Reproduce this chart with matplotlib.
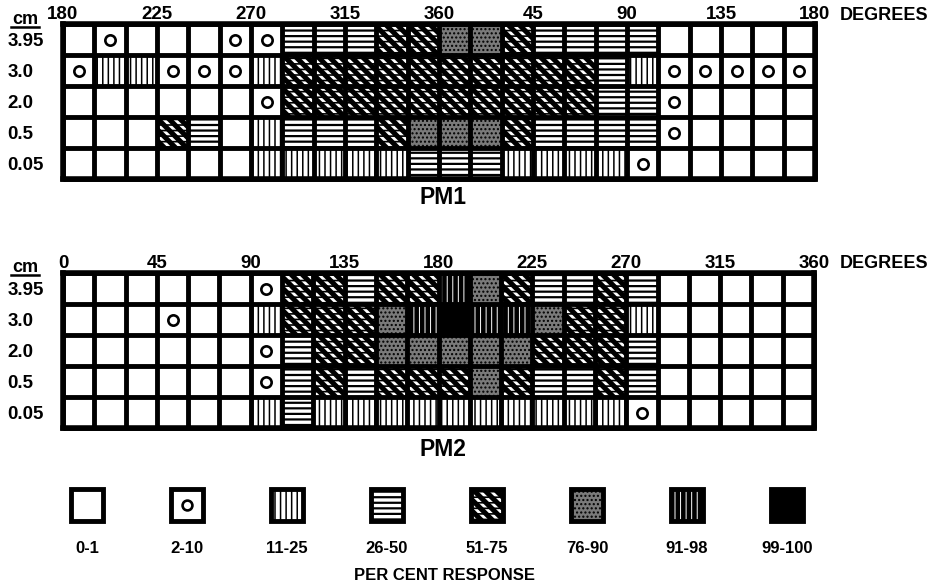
import numpy as np
import matplotlib as mpl
import matplotlib.pyplot as plt
from matplotlib.patches import Rectangle

plt.rcParams['font.family'] = ['Liberation Sans', 'DejaVu Sans']
plt.rcParams['font.weight'] = 'bold'
plt.rcParams['hatch.linewidth'] = 1.4

W, H = 935, 588

depths = ['3.95', '3.0', '2.0', '0.5', '0.05']
pm1_ticks = ['180', '225', '270', '315', '360', '45', '90', '135', '180']
pm2_ticks = ['0', '45', '90', '135', '180', '225', '270', '315', '360']
classes = ['0-1', '2-10', '11-25', '26-50', '51-75', '76-90', '91-98', '99-100']

# response class (index into classes) per cell; rows = depths, 24 cols of 15 deg
pm1 = np.array([
    [0, 1, 0, 0, 0, 1, 1, 3, 3, 3, 4, 4, 5, 5, 4, 3, 3, 3, 3, 0, 0, 0, 0, 0],
    [1, 2, 2, 1, 1, 1, 2, 4, 4, 4, 4, 4, 4, 4, 4, 4, 4, 3, 2, 1, 1, 1, 1, 1],
    [0, 0, 0, 0, 0, 0, 1, 4, 4, 4, 4, 4, 4, 4, 4, 4, 4, 3, 3, 1, 0, 0, 0, 0],
    [0, 0, 0, 4, 3, 0, 2, 3, 3, 3, 4, 5, 5, 5, 4, 3, 3, 3, 3, 1, 0, 0, 0, 0],
    [0, 0, 0, 0, 0, 0, 2, 2, 2, 2, 2, 3, 3, 3, 2, 2, 2, 2, 1, 0, 0, 0, 0, 0],
])
pm2 = np.array([
    [0, 0, 0, 0, 0, 0, 1, 4, 4, 3, 4, 4, 6, 5, 4, 3, 3, 4, 3, 0, 0, 0, 0, 0],
    [0, 0, 0, 1, 0, 0, 2, 4, 4, 4, 5, 6, 7, 6, 6, 5, 4, 4, 2, 0, 0, 0, 0, 0],
    [0, 0, 0, 0, 0, 0, 1, 3, 4, 4, 5, 5, 5, 5, 5, 4, 4, 4, 3, 0, 0, 0, 0, 0],
    [0, 0, 0, 0, 0, 0, 1, 3, 4, 3, 4, 4, 4, 5, 4, 3, 3, 4, 3, 0, 0, 0, 0, 0],
    [0, 0, 0, 0, 0, 0, 2, 3, 2, 2, 2, 2, 2, 2, 2, 2, 2, 2, 1, 0, 0, 0, 0, 0],
])

# (face, hatch colour, hatch, hatch width) for each class
styles = {
    0: ('white', 'white', None, 1.4),
    1: ('white', 'white', None, 1.4),
    2: ('white', 'black', '|||', 1.1),
    3: ('white', 'black', '---', 1.6),
    4: ('black', 'white', '\\\\\\', 2.0),
    5: ('#7a7a7a', 'black', '....', 1.0),
    6: ('black', 'white', '|||', 0.7),
    7: ('black', 'black', None, 1.4),
}


def draw_cell(ax, x, y, w, h, k):
    face, hc, hatch, hw = styles[k]
    with mpl.rc_context({'hatch.linewidth': hw}):
        ax.add_patch(Rectangle((x, y), w, h, facecolor=face, edgecolor=hc,
                               hatch=hatch, lw=0, zorder=1))
    if k == 4:
        # break the diagonals into short dashes
        with mpl.rc_context({'hatch.linewidth': 1.2}):
            ax.add_patch(Rectangle((x, y), w, h, facecolor='none', edgecolor='black',
                                   hatch='---', lw=0, zorder=1.5))


def px_axes(x0, y0, x1, y1):
    return fig.add_axes([x0 / W, 1 - y1 / H, (x1 - x0) / W, (y1 - y0) / H])


def draw_grid(ax, data, ticks):
    nr, nc = data.shape
    for i in range(nr):
        for j in range(nc):
            draw_cell(ax, j, i, 1, 1, data[i, j])
    ri, ci = np.where(data == 1)
    ax.scatter(ci + 0.5, ri + 0.5, s=55, marker='o', facecolors='white',
               edgecolors='black', linewidths=1.9, zorder=3)
    ax.vlines(np.arange(nc + 1), 0, nr, color='black', lw=3.5, zorder=2, clip_on=False)
    ax.hlines(np.arange(nr + 1), 0, nc, color='black', lw=3.5, zorder=2, clip_on=False)
    ax.set_xlim(0, nc)
    ax.set_ylim(nr, 0)
    for s in ax.spines.values():
        s.set_linewidth(4)
        s.set_zorder(4)
    ax.xaxis.tick_top()
    ax.set_xticks(np.arange(0, nc + 1, 3))
    ax.set_xticklabels(ticks)
    ax.set_yticks(np.arange(nr) + 0.5)
    ax.set_yticklabels(depths)
    ax.tick_params(axis='x', length=0, pad=1, labelsize=13.5)
    ax.tick_params(axis='y', length=0, pad=40, labelsize=13.5)
    for lbl in ax.get_yticklabels():
        lbl.set_horizontalalignment('left')


fig = plt.figure(figsize=(W / 100, H / 100), dpi=100)
bg = fig.add_axes([0, 0, 1, 1])
bg.set_xlim(0, W)
bg.set_ylim(H, 0)
bg.axis('off')

ax1 = px_axes(63, 24, 815, 179)
draw_grid(ax1, pm1, pm1_ticks)
ax2 = px_axes(63, 273, 814, 428)
draw_grid(ax2, pm2, pm2_ticks)

for y in (20, 268):
    bg.text(25, y, 'cm', ha='center', va='center', fontsize=13)
    bg.plot([11, 39], [y + 7, y + 7], color='black', lw=1.8)
    bg.text(840, y - 5, 'DEGREES', ha='left', va='center', fontsize=13)

bg.text(443, 197, 'PM1', ha='center', va='center', fontsize=16.5)
bg.text(443, 449, 'PM2', ha='center', va='center', fontsize=16.5)

# legend
leg = px_axes(37, 489, 837, 521)
leg.set_xlim(0, len(classes))
leg.set_ylim(1, 0)
leg.axis('off')
bw = 0.32
for k, name in enumerate(classes):
    x0 = k + 0.5 - bw / 2
    draw_cell(leg, x0, 0, bw, 1, k)
    leg.add_patch(Rectangle((x0, 0), bw, 1, facecolor='none', edgecolor='black',
                            lw=3.5, zorder=4, clip_on=False))
    if k == 1:
        leg.scatter([k + 0.5], [0.5], s=50, marker='o', facecolors='white',
                    edgecolors='black', linewidths=1.9, zorder=5)
    leg.text(k + 0.5, 1.85, name, ha='center', va='center', fontsize=12)

bg.text(445, 576, 'PER CENT RESPONSE', ha='center', va='center', fontsize=12)

fig.savefig('out.png', dpi=100)
